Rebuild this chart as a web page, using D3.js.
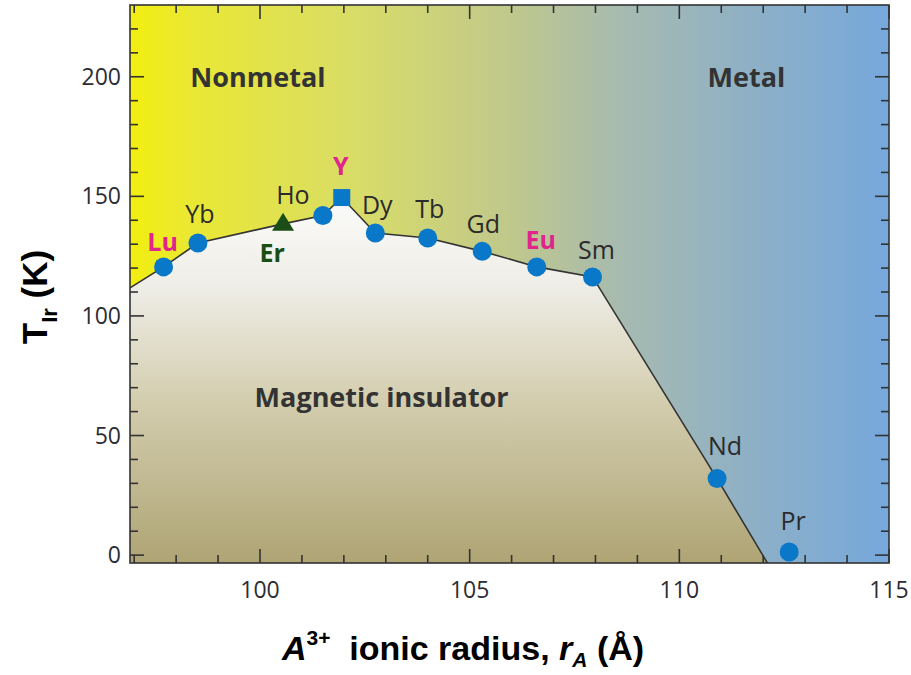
<!DOCTYPE html>
<html><head><meta charset="utf-8">
<script src="https://cdn.jsdelivr.net/npm/d3@7"></script>
<style>body{margin:0;background:#fff}svg{display:block}</style>
</head><body>
<script>
// ---- data ----
const elements = ["Lu","Yb","Er","Ho","Y","Dy","Tb","Gd","Eu","Sm","Nd","Pr"];
const radius   = [97.7, 98.52, 100.55, 101.5, 101.95, 102.75, 104.0, 105.3, 106.6, 107.93, 110.9, 112.62];
const tIr      = [120.5, 130.5, 138.5, 142, 149.5, 134.7, 132.6, 127, 120.5, 116.3, 32, 1.3];
const markers  = ["circle","circle","triangle","circle","square","circle","circle","circle","circle","circle","circle","circle"];
const labelStyle = ["pink","dark","green","dark","pink","dark","dark","dark","pink","dark","dark","dark"];
const labelDx  = [-1, 2, -11, -30, -1, 2, 2, 1, 4, 4, 8, 4];
const labelDy  = [-25, -29, 29, -20, -31, -28, -29, -27, -27, -27, -32, -31];
// phase boundary (x, T)
const boundaryX = [96.9, 97.7, 98.52, 100.55, 101.5, 101.95, 102.75, 104.0, 105.3, 106.6, 107.93, 110.9, 112.1];
const boundaryT = [111.7, 120.5, 130.5, 138.5, 142, 149.5, 134.7, 132.6, 127, 120.5, 116.3, 32, -3.3];
const xMajor = [100, 105, 110, 115];
const yMajor = [0, 50, 100, 150, 200];
const regionLabels = ["Nonmetal", "Metal", "Magnetic insulator"];
const regionX = [99.95, 111.6, 102.9];
const regionT = [199.5, 199.5, 66];

// ---- layout ----
const W = 911, H = 675;
const L = 130, R = 889, T = 5, B = 563;
const x = d3.scaleLinear().domain([96.9, 115]).range([L, R]);
const y = d3.scaleLinear().domain([-3.3, 230]).range([B, T]);

const svg = d3.select("body").append("svg").attr("width", W).attr("height", H);
const defs = svg.append("defs");
const bg = defs.append("linearGradient").attr("id","bg").attr("gradientUnits","userSpaceOnUse")
  .attr("x1", L).attr("x2", R).attr("y1", 0).attr("y2", 0);
[[0,"#f2ee10"],[0.08,"#eae833"],[0.3,"#d8dc68"],[0.5,"#c0c88c"],[0.65,"#a6bab0"],[0.82,"#8eb0c6"],[1,"#76a8dc"]]
  .forEach(s => bg.append("stop").attr("offset", s[0]).attr("stop-color", s[1]));
const ins = defs.append("linearGradient").attr("id","ins").attr("gradientUnits","userSpaceOnUse")
  .attr("x1", 0).attr("x2", 0).attr("y1", y(150)).attr("y2", y(-3.3));
[[0,"#fbfbfa"],[0.25,"#eeede6"],[0.55,"#d4ceb0"],[1,"#aea474"]]
  .forEach(s => ins.append("stop").attr("offset", s[0]).attr("stop-color", s[1]));
defs.append("clipPath").attr("id","clip").append("rect")
  .attr("x", L).attr("y", T).attr("width", R-L).attr("height", B-T);

const plot = svg.append("g").attr("clip-path","url(#clip)");
plot.append("rect").attr("x", L).attr("y", T).attr("width", R-L).attr("height", B-T).attr("fill","url(#bg)");

const pts = boundaryX.map((v,i)=>[v, boundaryT[i]]);
const area = d3.area().x(d=>x(d[0])).y0(y(-3.3)).y1(d=>y(d[1]));
plot.append("path").datum(pts).attr("d", area).attr("fill","url(#ins)");
plot.append("path").datum(pts).attr("d", d3.line().x(d=>x(d[0])).y(d=>y(d[1])))
  .attr("fill","none").attr("stroke","#333").attr("stroke-width",1.6);

// ---- axes (ticks inward on all sides) ----
const ax = svg.append("g").attr("stroke","#333").attr("stroke-width",1.6);
d3.range(97, 115.01, 1).forEach(v => {
  const len = xMajor.includes(v) ? 14 : 8;
  ax.append("line").attr("x1", x(v)).attr("x2", x(v)).attr("y1", B).attr("y2", B-len);
  ax.append("line").attr("x1", x(v)).attr("x2", x(v)).attr("y1", T).attr("y2", T+len);
});
d3.range(0, 230, 10).forEach(v => {
  const len = yMajor.includes(v) ? 14 : 8;
  ax.append("line").attr("y1", y(v)).attr("y2", y(v)).attr("x1", L).attr("x2", L+len);
  ax.append("line").attr("y1", y(v)).attr("y2", y(v)).attr("x1", R).attr("x2", R-len);
});
ax.append("rect").attr("x", L).attr("y", T).attr("width", R-L).attr("height", B-T).attr("fill","none");

const tickFont = "'Open Sans', sans-serif";
svg.append("g").selectAll("text").data(xMajor).join("text")
  .attr("x", d=>x(d)).attr("y", B+35).attr("text-anchor","middle")
  .attr("font-family", tickFont).attr("font-size", 23).attr("fill","#2c2c34")
  .text(d=>d);
svg.append("g").selectAll("text").data(yMajor).join("text")
  .attr("x", L-9).attr("y", d=>y(d)).attr("dy","0.35em").attr("text-anchor","end")
  .attr("font-family", tickFont).attr("font-size", 23).attr("fill","#2c2c34").text(d=>d);

// ---- region labels ----
svg.append("g").selectAll("text").data(regionLabels).join("text")
  .attr("x",(d,i)=>x(regionX[i])).attr("y",(d,i)=>y(regionT[i])).attr("dy","0.35em")
  .attr("text-anchor","middle").attr("font-family","'Open Sans', sans-serif")
  .attr("font-weight","bold").attr("font-size",27).attr("fill","#333").text(d=>d);

// ---- markers ----
const mk = svg.append("g");
elements.forEach((e,i) => {
  const cx = x(radius[i]), cy = y(tIr[i]);
  if (markers[i] === "circle") {
    mk.append("circle").attr("cx",cx).attr("cy",cy).attr("r",9.5).attr("fill","#0a78c8");
  } else if (markers[i] === "square") {
    mk.append("rect").attr("x",cx-8.5).attr("y",cy-8.5).attr("width",17).attr("height",17).attr("fill","#0a78c8");
  } else {
    mk.append("path").attr("transform",`translate(${cx},${cy})`)
      .attr("d","M0,-11L11,7L-11,7Z").attr("fill","#1b4d16");
  }
});
const colors = {dark:"#2b2b2b", pink:"#e0258c", green:"#1b4d16"};
svg.append("g").selectAll("text").data(elements).join("text")
  .attr("x",(d,i)=>x(radius[i])+labelDx[i]).attr("y",(d,i)=>y(tIr[i])+labelDy[i]).attr("dy","0.35em")
  .attr("text-anchor","middle").attr("font-family","'Open Sans', sans-serif")
  .attr("font-size",25).attr("font-weight",(d,i)=>labelStyle[i]==="dark"?"normal":"bold")
  .attr("fill",(d,i)=>colors[labelStyle[i]]).text(d=>d);

// ---- axis titles ----
const xt = svg.append("text").attr("x", 463).attr("y", 660).attr("text-anchor","middle")
  .attr("font-family","'Liberation Sans', Arial, sans-serif").attr("font-weight","bold")
  .attr("font-size",34).attr("fill","#000");
xt.append("tspan").attr("font-style","italic").text("A");
xt.append("tspan").attr("font-size",21).attr("dy",-15).text("3+");
xt.append("tspan").attr("dy",15).text("\u00a0 ionic radius, ");
xt.append("tspan").attr("font-style","italic").text("r");
xt.append("tspan").attr("font-style","italic").attr("font-size",21).attr("dy",7).text("A");
xt.append("tspan").attr("dy",-7).text(" (\u00c5)");

const yt = svg.append("text").attr("transform","translate(47,297) rotate(-90)").attr("text-anchor","middle")
  .attr("font-family","'Liberation Sans', Arial, sans-serif").attr("font-weight","bold")
  .attr("font-size",35).attr("fill","#000");
yt.append("tspan").text("T");
yt.append("tspan").attr("font-size",22).attr("dy",10).text("Ir");
yt.append("tspan").attr("dy",-10).text(" (K)");
</script>
</body></html>
